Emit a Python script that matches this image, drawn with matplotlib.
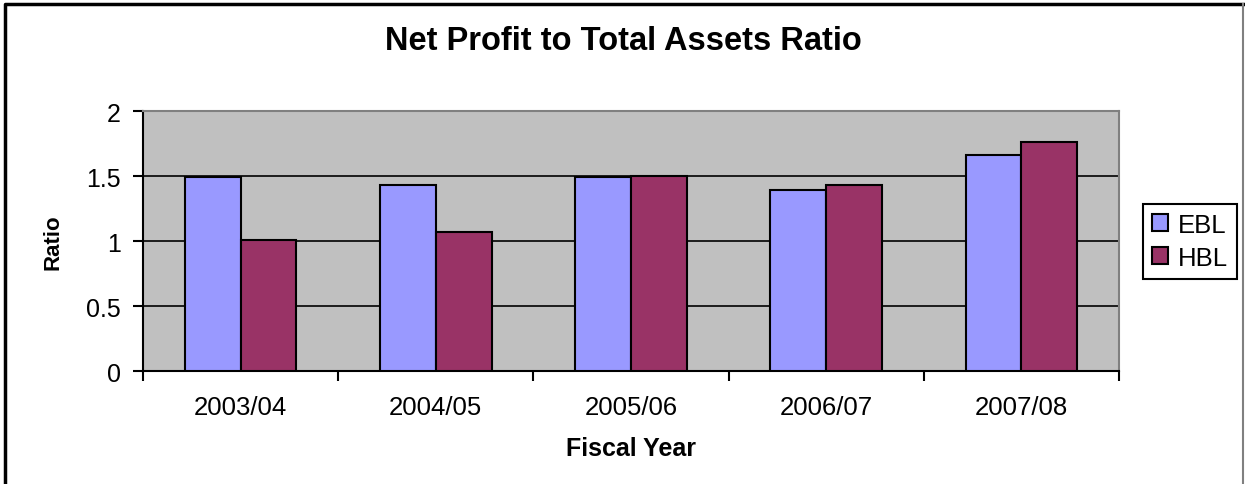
import numpy as np
import matplotlib.pyplot as plt
from matplotlib.lines import Line2D

plt.rcParams['font.family'] = ['Liberation Sans', 'DejaVu Sans']

years = ['2003/04', '2004/05', '2005/06', '2006/07', '2007/08']
ebl = [1.49, 1.43, 1.49, 1.39, 1.66]
hbl = [1.01, 1.07, 1.50, 1.43, 1.76]
yticks = [0, 0.5, 1, 1.5, 2]

fig = plt.figure(figsize=(12.45, 4.85), dpi=100)
ax = fig.add_axes([0.1149, 0.2324, 0.7839, 0.5366])
ax.set_facecolor('#C0C0C0')

x = np.arange(len(years))
w = 1 / 3.5
ax.bar(x - w / 2, ebl, w, color='#9999FF', edgecolor='black', linewidth=1.5, label='EBL', zorder=3)
ax.bar(x + w / 2, hbl, w, color='#993366', edgecolor='black', linewidth=1.5, label='HBL', zorder=3)

ax.set_xlim(-0.5, len(years) - 0.5)
ax.set_ylim(0, 2)
ax.set_yticks(yticks)
ax.set_yticklabels(['0', '0.5', '1', '1.5', '2'])
ax.yaxis.grid(True, color='black', linewidth=1.2, zorder=1)
ax.set_axisbelow(True)

ax.set_xticks(x)
ax.set_xticklabels(years)
ax.set_xticks(np.arange(len(years) + 1) - 0.5, minor=True)
ax.tick_params(axis='x', which='major', length=0, pad=17, labelsize=18.5)
ax.tick_params(axis='x', which='minor', length=7, width=1.5, direction='out')
ax.tick_params(axis='y', length=7, width=1.5, labelsize=18, pad=9)

for s in ['left', 'bottom']:
    ax.spines[s].set_color('black')
    ax.spines[s].set_linewidth(1.5)
for s in ['top', 'right']:
    ax.spines[s].set_color('#808080')
    ax.spines[s].set_linewidth(1.5)

ax.set_xlabel('Fiscal Year', fontsize=18, fontweight='bold', labelpad=12)
ax.set_ylabel('Ratio', fontsize=16, fontweight='bold', labelpad=16)
fig.text(0.501, 0.914, 'Net Profit to Total Assets Ratio', ha='center', va='center',
         fontsize=23.5, fontweight='bold')

leg = ax.legend(loc='center left', bbox_to_anchor=(1.025, 0.5), fontsize=18.5,
                frameon=True, fancybox=False, edgecolor='black', framealpha=1,
                handlelength=0.6, handleheight=0.6, handletextpad=0.4,
                borderpad=0.35, labelspacing=0.35, borderaxespad=0)
leg.get_frame().set_linewidth(1.5)

# chart area border (bottom edge is cropped in the original)
fig.add_artist(Line2D([0.004, 0.004, 0.9985], [0.0, 0.99, 0.99], transform=fig.transFigure,
                      color='black', linewidth=2.5))
fig.add_artist(Line2D([0.9985, 0.9985], [0.99, 0.0], transform=fig.transFigure,
                      color='#808080', linewidth=1.5))

fig.savefig('out.png', dpi=100)
